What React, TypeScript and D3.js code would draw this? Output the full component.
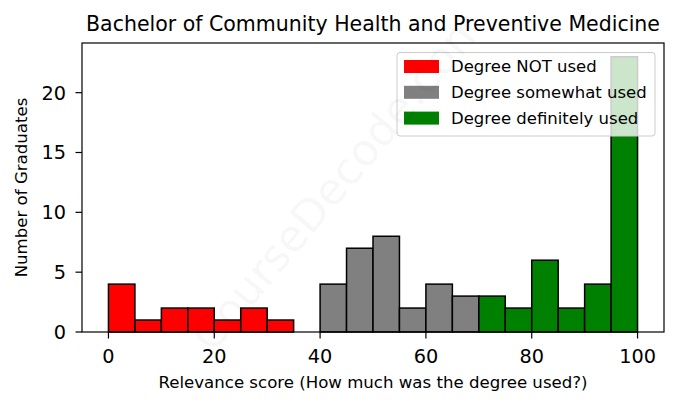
import React from "react";
import * as d3 from "d3";

const binStarts = [0,5,10,15,20,25,30,35,40,45,50,55,60,65,70,75,80,85,90,95];
const counts = [4,1,2,2,1,2,1,0,4,7,8,2,4,3,3,2,6,2,4,23];
const categories = ["Degree NOT used","Degree somewhat used","Degree definitely used"];
const catColors = ["#ff0000","#808080","#008000"];
const xTicks = [0,20,40,60,80,100];
const yTicks = [0,5,10,15,20];

function catOf(s: number) { return s < 40 ? 0 : s < 70 ? 1 : 2; }

export default function App() {
  const W = 679, H = 408;
  const m = { l: 82, r: 664, t: 43, b: 332 };
  const x = d3.scaleLinear().domain([-5, 105]).range([m.l, m.r]);
  const y = d3.scaleLinear().domain([0, 24.15]).range([m.b, m.t]);
  const font = "DejaVu Sans, sans-serif";
  return (
    <svg width={W} height={H} style={{ position: "absolute", left: 0, top: 0, background: "#fff" }} fontFamily={font}>
      <rect x={0} y={0} width={W} height={H} fill="#fff" />
      {binStarts.map((s, i) => counts[i] > 0 && (
        <rect key={i} x={x(s)} y={y(counts[i])} width={x(s + 5) - x(s)} height={y(0) - y(counts[i])}
          fill={catColors[catOf(s)]} stroke="#000" strokeWidth={1.5} />
      ))}
      <rect x={m.l} y={m.t} width={m.r - m.l} height={m.b - m.t} fill="none" stroke="#000" strokeWidth={1.2} />
      {xTicks.map(t => (
        <g key={t}>
          <line x1={x(t)} x2={x(t)} y1={m.b} y2={m.b + 6.5} stroke="#000" strokeWidth={1.2} />
          <text x={x(t)} y={363} textAnchor="middle" fontSize={19.3} fill="#000">{t}</text>
        </g>
      ))}
      {yTicks.map(t => (
        <g key={t}>
          <line x1={m.l - 6.5} x2={m.l} y1={y(t)} y2={y(t)} stroke="#000" strokeWidth={1.2} />
          <text x={66} y={y(t)} dy="0.36em" textAnchor="end" fontSize={19.3} fill="#000">{t}</text>
        </g>
      ))}
      <text x={(m.l + m.r) / 2} y={388} textAnchor="middle" fontSize={16.6} fill="#000">Relevance score (How much was the degree used?)</text>
      <text transform={`translate(27,${(m.t + m.b) / 2}) rotate(-90)`} textAnchor="middle" fontSize={16.6} fill="#000">Number of Graduates</text>
      <text x={(m.l + m.r) / 2} y={31} textAnchor="middle" fontSize={20.5} fill="#000">Bachelor of Community Health and Preventive Medicine</text>
      <g>
        <rect x={397} y={52.5} width={258} height={83.5} rx={3} fill="#fff" fillOpacity={0.8} stroke="#cccccc" strokeWidth={1} />
        {categories.map((c, i) => (
          <g key={c}>
            <rect x={404} y={60 + i * 25.8} width={35} height={13} fill={catColors[i]} />
            <text x={451} y={66.5 + i * 25.8} dy="0.35em" fontSize={16.5} fill="#000">{c}</text>
          </g>
        ))}
      </g>
      <text transform="translate(350,190) rotate(-50)" textAnchor="middle" fontSize={44} fill="#000" fillOpacity={0.045}>CourseDecode.com</text>
    </svg>
  );
}
